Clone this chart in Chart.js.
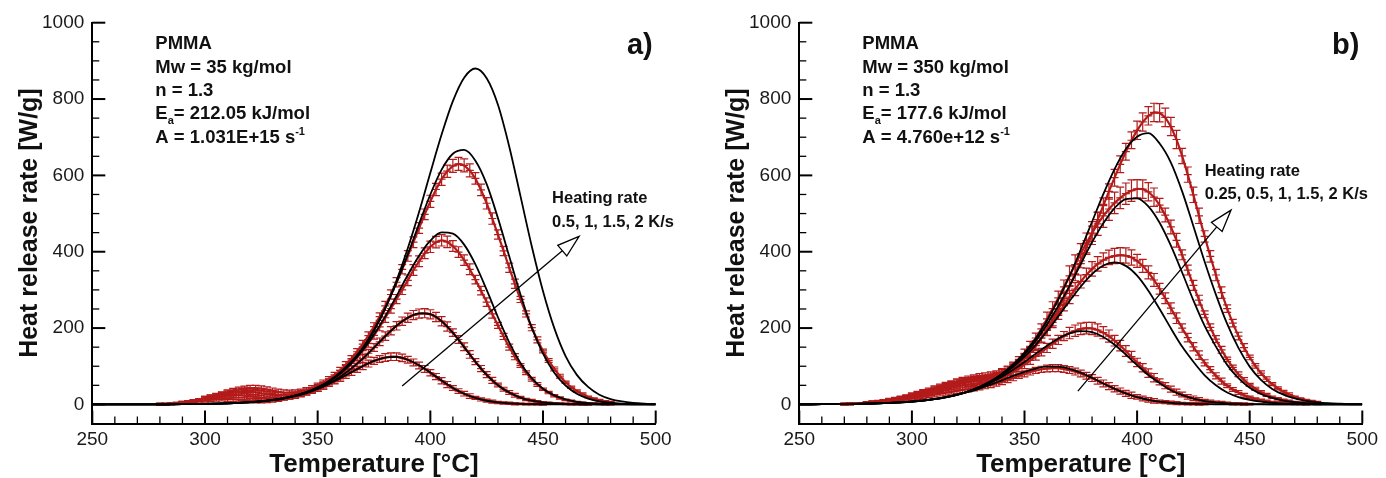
<!DOCTYPE html>
<html>
<head>
<meta charset="utf-8">
<script src="https://cdn.jsdelivr.net/npm/chart.js@4.4.0/dist/chart.umd.min.js"></script>
<style>
  body { margin: 0; background: #fff; width: 1386px; height: 478px; overflow: hidden; position: relative; }
  canvas { position: absolute; top: 0; }
</style>
</head>
<body>
<canvas id="chartA" width="707" height="478" style="left:0"></canvas>
<canvas id="chartB" width="679" height="478" style="left:707px"></canvas>
<script>
// grids
const modelStart = 250, modelStep = 5;   // black model curves, 250..500 every 5 °C
const expStep = 2.5;                     // red measured points
const expStartA = 280, expStartB = 270;
const xTicks = [250, 300, 350, 400, 450, 500];
const yTicks = [0, 200, 400, 600, 800, 1000];

// --- panel a: model curves (black)
const modelA1 = [0,0,0,0,0.1,0.2,0.3,0.5,0.7,1, 1.4,2,2.9,4.2,6,8.5,11.9,16.7,22.9,31, 41.4,53.9,68.6,84.6,100.4,114.1,122.6,124.4,117,102.7, 83.4,62.4,43.1,27.9,16.9,9.6,5.4,2.8,1.4,0.7, 0.35,0.2,0.1,0,0,0,0,0,0,0, 0];
const modelA2 = [0,0,0,0,0.1,0.15,0.25,0.4,0.6,0.85, 1.2,1.8,2.6,3.8,5.5,7.8,11,15.5,21.6,29.8, 40.6,54.5,72.5,94.3,120,148.8,178.6,206,227,238.6, 236.4,218,187.7,150,111.6,77.3,50.4,31,18,9.8, 5.3,2.8,1.4,0.7,0.3,0.1,0,0,0,0, 0];
const modelA3 = [0,0,0,0,0.1,0.15,0.25,0.4,0.6,0.9, 1.3,1.9,2.8,4,5.8,8.2,11.7,16.5,23.2,32, 44.1,60,81,107.8,142,183.4,230.7,284,339,389.5, 429,450.5,447.3,418.6,366.7,299.8,228.4,162.4,108.7,68.7, 41,23.7,13.2,6.8,3.6,1.9,1,0.5,0.2,0.1, 0];
const modelA4 = [0,0,0,0,0.1,0.15,0.25,0.4,0.6,0.9, 1.3,1.9,2.8,4,5.8,8.3,11.7,16.7,23.3,32.4, 44.9,61.5,83.8,112.6,148.7,195.6,252.6,319,393,473, 550,615,656.6,666.7,638.5,577,488,388,288,201, 133.3,83.1,49.6,28.1,15.4,8,4.4,2.3,1.2,0.6, 0.3];
const modelA5 = [0,0,0,0,0.1,0.15,0.25,0.4,0.6,0.9, 1.3,1.8,2.7,3.8,5.5,7.9,11.3,15.9,22.4,31.1, 43,59.2,80.7,109,146,192.7,251.7,324.7,409,504, 607,707,794.6,856,880,854.5,785,675.8,545.6,414.5, 296.6,199.8,126.7,77.4,45.8,25.5,14,7.7,4.1,2.2, 1.1];

// --- panel a: measurements (red) and error half-widths per 10 °C
const expA1 = [0.5,1,1.5,2.5,3.5,5,7,9,11,12.5, 13.5,14,14,13.5,12.5,11.5,10.5,10,10,10.5, 12,14,17,20,23,27,31,36,41,47, 54,61,68,76,84,92,100,107,114,119, 123,125,125,122,117,110,102,93,83,73, 62,52,43,35,28,22,17,13,10,7, 5,4,3,2,1.5,1,0.7,0.5,0.3];
const expA2 = [0.5,1,2,3,4.5,6.5,9,11.5,14,17, 19.5,21.5,23,24,24,23,21.5,19.5,17.5,16, 15.5,16,17.5,19.5,22,26,30,35,41,47, 55,63,72,83,94,107,120,134,149,164, 179,193,206,218,227,234,238,239,236,229, 218,204,188,170,151,131,112,94,78,63, 51,40,31,24,18,13,10,7,5,4, 3,2,1.4,1,0.7,0.4,0.2];
const expA3 = [0.5,1,2,3.5,5,7,9.5,12.5,16,19.5, 23,26.5,29.5,31.5,33,33.5,33,31.5,29,27, 25,24,24,25,27,30,34,39,45,52, 60,70,81,94,108,124,141,160,181,203, 227,251,276,300,325,352,375,396,413,425, 430,426,415,399,378,354,327,298,268,237, 207,178,150,125,102,83,66,52,40,31, 23,17,12,9,6,4,3,2,1.3,0.8, 0.5];
const expA4 = [0.5,1,2,3.5,5,7,9.5,12.5,16,20, 24,28,32,36,39.5,42,43,43,41.5,39, 36,33,31,30.5,31,33,37,42,49,57, 66,77,89,104,120,138,158,180,204,230, 258,288,320,354,389,425,462,498,532,563, 590,611,625,630,626,613,592,562,527,487, 445,402,358,316,275,237,201,169,140,115, 93,74,58,45,35,27,20,15,11,8, 6];
const errA1 = [2,3,5,6,6,6,6,7,8,9,10,9,8,6,4,3,2,2,2,2,2];
const errA2 = [2,3,5,6,6,6,6,7,8,10,11,12,12,10,8,5,3,2,2,2,2];
const errA3 = [2,3,5,6,7,7,6,7,8,10,12,14,15,14,11,8,5,3,2,2,2];
const errA4 = [2,3,5,6,7,7,7,7,8,10,12,14,16,17,15,12,8,5,3,2,2];

// --- panel b: model curves (black)
const modelB1 = [0.2,0.35,0.5,0.7,1,1.5,2.1,2.9,4.1,5.6, 7.8,10.5,14.3,19.1,25.1,32.6,41.6,51.8,63.2,74.9, 85.5,94,98.9,98.8,93.3,83.1,69.7,54.9,40.7,29, 19,12,7.3,4.3,2.4,1.3,0.7,0.35,0.2,0.1, 0,0,0,0,0,0,0,0,0,0, 0];
const modelB2 = [0.2,0.35,0.5,0.7,1,1.5,2,2.8,3.9,5.5, 7.5,10.3,14.1,19,25.5,33.8,44,57.1,72.8,90.9, 111.2,132.6,153.8,172.5,185.9,192,189.1,176.8,156.3,130.7, 103.1,77,55.8,37.2,24.1,14.9,8.9,5.2,2.9,1.6, 0.9,0.5,0.25,0.1,0,0,0,0,0,0, 0];
const modelB3 = [0.2,0.35,0.5,0.7,0.9,1.3,1.9,2.7,3.8,5.3, 7.3,10,13.8,18.7,25.2,33.7,45,58.8,76.6,98.6, 125,156.2,191.6,230.6,270.8,309,341.5,363.8,372,363, 337.4,298,250,199.4,151.4,111.6,76.3,50.2,31.2,19.3, 11.9,7.1,4.1,2.3,1.3,0.8,0.4,0.2,0.1,0, 0];
const modelB4 = [0.2,0.35,0.5,0.7,0.9,1.3,1.9,2.7,3.8,5.3, 7.4,10.1,13.8,18.7,25.3,34,45.5,60,79,102.5, 131.3,166.2,209.3,257.8,310.7,367.9,425,474.7,514.5,538, 540,518.8,475.8,415.8,345.5,272.5,205.5,151.5,103.6,68.7, 43.6,27.3,16.9,9.8,6,3.5,2,1.1,0.6,0.3, 0.15];
const modelB5 = [0.2,0.35,0.5,0.7,0.9,1.3,1.9,2.7,3.8,5.3, 7.4,10.2,14,19,25.6,34.4,46.1,61.1,80.5,105.4, 136,173,220,274.8,336,405.8,478.5,551,616.6,669.3, 701.3,710.6,683.5,633.7,558.2,467,373.8,287.6,210.8,148.1, 99,64.1,40.6,25.6,15.7,9.3,5.3,3.1,1.9,1, 0.5];

// --- panel b: measurements (red)
const expB1 = [1,1.5,2,2.5,3.5,4.5,5.5,7,8.5,10, 12,13.5,15.5,18,20.5,23,25.5,28,30.5,33, 35.5,38,40,42.5,45,48,51,55,59,64, 69,75,80,85,89,92,94,95,95,93, 90,86,81,75,69,62,55,48,41,35, 29,24,19.5,15.5,12,9.5,7.5,6,4.5,3.5, 2.5,2,1.5,1,0.7];
const expB2 = [1,1.5,2,3,4,5,6.5,8,10,12, 14.5,17,20,23,26.5,30,33.5,37,40.5,44, 47,50,52,54,56,58,61,65,70,77, 85,94,104,115,126,137,148,159,169,179, 187,193,198,200,199,195,188,179,167,154, 140,125,110,96,82,70,59,49,40,32, 26,20,16,12,9,7,5,4,3,2, 1.5,1,0.7];
const expB3 = [1,1.5,2,3,4,5.5,7,8.5,10.5,13, 15.5,18.5,22,25.5,29,33,37,41,45,49, 53,56,59,61,63,65,68,72,78,86, 96,108,122,138,155,174,194,215,237,259, 281,302,322,340,355,368,378,385,389,391, 390,385,376,363,346,326,303,278,252,226, 200,175,151,129,109,91,75,61,49,39, 31,24,19,14,11,8,6,4.5,3.3,2.4, 1.7,1.2,0.8];
const expB4 = [1,1.5,2,3,4,5.5,7,9,11,13.5, 16.5,19.5,23,27,31,35.5,40,44.5,49,53.5, 57.5,61,64,66.5,68,69.5,72,76,82,90, 101,115,132,152,174,198,224,251,279,308, 337,366,395,423,449,473,494,512,528,541, 552,560,565,564,557,543,522,496,465,430, 392,352,312,273,236,202,171,143,118,97, 79,64,51,41,32,25,19,15,11,8, 6,4.5,3.3,2.4,1.7];
const expB5 = [1,1.5,2,3,4,5.5,7.5,9.5,12,14.5, 17.5,21,25,29,33.5,38,42.5,47,51.5,56, 60,64,67.5,70.5,73,75,77,80,84,90, 98,108,121,136,154,174,197,222,249,278, 309,342,376,411,447,484,521,558,594,629, 662,692,718,740,756,765,764,752,728,694, 651,602,549,494,440,388,339,293,251,213, 179,149,123,101,82,66,53,42,33,26, 20,15,11.5,8.5,6];
const errB1 = [2,3,4,5,6,7,7,7,8,9,9,9,8,6,4,3,2,2,2,2,2,2];
const errB2 = [2,3,4,5,6,7,8,8,10,12,15,16,14,11,8,6,4,3,2,2,2,2];
const errB3 = [2,3,4,5,6,7,8,9,11,14,17,19,20,17,14,11,8,5,3,2,2,2];
const errB4 = [2,3,4,5,6,7,8,10,13,18,26,30,28,24,18,13,9,6,4,3,2,2];
const errB5 = [2,3,4,5,6,7,8,10,13,16,18,20,22,24,24,20,15,10,6,4,2,2];

// annotation text
const infoA = [[['PMMA']], [['Mw = 35 kg/mol']], [['n = 1.3']], [['E'], ['a', 'sub'], ['= 212.05 kJ/mol']], [['A = 1.031E+15 s'], ['-1', 'sup']]];
const infoB = [[['PMMA']], [['Mw = 350 kg/mol']], [['n = 1.3']], [['E'], ['a', 'sub'], ['= 177.6 kJ/mol']], [['A = 4.760e+12 s'], ['-1', 'sup']]];
const rateA = ['Heating rate', '0.5, 1, 1.5, 2 K/s'];
const rateB = ['Heating rate', '0.25, 0.5, 1, 1.5, 2 K/s'];

const RED = '#b31b1b';
const FONT = "'Liberation Sans', Arial, Helvetica, sans-serif";

function modelSet(vals) {
    return {
        data: vals.map((v, i) => ({ x: modelStart + i * modelStep, y: v })),
        borderColor: '#000', borderWidth: 1.8, pointRadius: 0,
        cubicInterpolationMode: 'monotone', order: 1
    };
}

function expSet(vals, errs, start) {
    return {
        data: vals.map((v, i) => ({ x: start + i * expStep, y: v, e: errs[Math.floor(i * expStep / 10)] })),
        borderColor: RED, borderWidth: 2.2, pointStyle: 'line', pointRadius: 4,
        pointBorderColor: RED, pointBorderWidth: 1.2, withErr: true, order: 2
    };
}

function drawRich(ctx, parts, x, y) {
    parts.forEach(([txt, kind]) => {
        ctx.font = kind ? `bold 11px ${FONT}` : `bold 18.5px ${FONT}`;
        const dy = kind === 'sub' ? 5 : kind === 'sup' ? -8 : 0;
        ctx.fillText(txt, x, y + dy);
        x += ctx.measureText(txt).width;
    });
}

const decorPlugin = {
    id: 'decor',
    // error bars go under the curves
    beforeDatasetsDraw(chart) {
        const { ctx, scales: { x, y } } = chart;
        ctx.save();
        ctx.strokeStyle = RED;
        ctx.lineWidth = 1.2;
        chart.data.datasets.forEach(ds => {
            if (!ds.withErr) return;
            ds.data.forEach(p => {
                const px = x.getPixelForValue(p.x);
                const y1 = y.getPixelForValue(p.y + p.e), y2 = y.getPixelForValue(p.y - p.e);
                ctx.beginPath();
                ctx.moveTo(px, y1); ctx.lineTo(px, y2);
                ctx.moveTo(px - 4, y1); ctx.lineTo(px + 4, y1);
                ctx.moveTo(px - 4, y2); ctx.lineTo(px + 4, y2);
                ctx.stroke();
            });
        });
        ctx.restore();
    },
    afterDraw(chart, args, opts) {
        const { ctx, chartArea: a, scales: { x, y } } = chart;
        ctx.save();
        ctx.strokeStyle = '#000';
        // ticks point inwards
        for (let t = 250; t <= 500; t += 10) {
            const major = xTicks.includes(t);
            const px = x.getPixelForValue(t);
            ctx.lineWidth = major ? 2 : 1.3;
            ctx.beginPath(); ctx.moveTo(px, a.bottom); ctx.lineTo(px, a.bottom - (major ? 13 : 7)); ctx.stroke();
        }
        for (let v = 0; v <= 1000; v += 50) {
            const major = yTicks.includes(v);
            const py = y.getPixelForValue(v);
            ctx.lineWidth = major ? 2 : 1.3;
            ctx.beginPath(); ctx.moveTo(a.left, py); ctx.lineTo(a.left + (major ? 13 : 7), py); ctx.stroke();
        }

        ctx.fillStyle = '#111';
        ctx.textBaseline = 'alphabetic';
        ctx.textAlign = 'left';
        let ty = 49.3;
        opts.info.forEach(line => { drawRich(ctx, line, a.left + 63, ty); ty += 23.3; });

        ctx.font = `bold 29px ${FONT}`;
        ctx.textAlign = 'right';
        ctx.fillText(opts.tag, a.right - 3, 54);

        ctx.textAlign = 'left';
        ctx.font = `bold 16.5px ${FONT}`;
        const rx = x.getPixelForValue(opts.rateAt[0]), ry = y.getPixelForValue(opts.rateAt[1]);
        ctx.fillText(opts.rate[0], rx, ry);
        ctx.fillText(opts.rate[1], rx, ry + 23.3);

        // arrow with hollow head
        const x0 = x.getPixelForValue(opts.arrow[0][0]), y0 = y.getPixelForValue(opts.arrow[0][1]);
        const x1 = x.getPixelForValue(opts.arrow[1][0]), y1 = y.getPixelForValue(opts.arrow[1][1]);
        const ang = Math.atan2(y1 - y0, x1 - x0);
        const L = 22, W = 7;
        const bx = x1 - L * Math.cos(ang), by = y1 - L * Math.sin(ang);
        ctx.lineWidth = 1.3;
        ctx.beginPath(); ctx.moveTo(x0, y0); ctx.lineTo(bx, by); ctx.stroke();
        ctx.beginPath();
        ctx.moveTo(x1, y1);
        ctx.lineTo(bx + W * Math.sin(ang), by - W * Math.cos(ang));
        ctx.lineTo(bx - W * Math.sin(ang), by + W * Math.cos(ang));
        ctx.closePath();
        ctx.fillStyle = '#fff';
        ctx.fill();
        ctx.stroke();
        ctx.restore();
    }
};

function makeOptions(padRight, decor) {
    return {
        responsive: false,
        animation: false,
        devicePixelRatio: 1,
        layout: { padding: { top: 22.7, right: padRight, left: 0, bottom: 0 } },
        plugins: { legend: { display: false }, tooltip: { enabled: false }, decor: decor },
        scales: {
            x: {
                type: 'linear', min: 250, max: 500,
                afterBuildTicks: s => { s.ticks = xTicks.map(v => ({ value: v })); },
                afterFit: s => { s.height = 54.5; },
                grid: { display: false, drawTicks: false },
                border: { display: true, color: '#000', width: 2 },
                ticks: { font: { family: FONT, size: 19 }, color: '#1a1a1a', padding: 5, maxRotation: 0, callback: v => String(v) },
                title: { display: true, text: 'Temperature [°C]', color: '#111', padding: { top: 0, bottom: 0 },
                         font: { family: FONT, size: 26, weight: 'bold', lineHeight: 1 } }
            },
            y: {
                type: 'linear', min: -50, max: 1000,
                afterBuildTicks: s => { s.ticks = yTicks.map(v => ({ value: v })); },
                afterFit: s => { s.width = 92.3; },
                grid: { display: false, drawTicks: false },
                border: { display: true, color: '#000', width: 2 },
                ticks: { font: { family: FONT, size: 19 }, color: '#1a1a1a', padding: 8, callback: v => String(v) },
                title: { display: true, text: 'Heat release rate [W/g]', color: '#111', padding: { top: 17.5, bottom: 0 },
                         font: { family: FONT, size: 25, weight: 'bold', lineHeight: 1 } }
            }
        }
    };
}

new Chart(document.getElementById('chartA'), {
    type: 'line',
    data: {
        datasets: [
            expSet(expA1, errA1, expStartA), expSet(expA2, errA2, expStartA),
            expSet(expA3, errA3, expStartA), expSet(expA4, errA4, expStartA),
            modelSet(modelA1), modelSet(modelA2), modelSet(modelA3), modelSet(modelA4), modelSet(modelA5)
        ]
    },
    options: makeOptions(707 - 655.7, { info: infoA, tag: 'a)', rate: rateA, rateAt: [454, 527], arrow: [[387.5, 48], [466, 440]] }),
    plugins: [decorPlugin]
});

new Chart(document.getElementById('chartB'), {
    type: 'line',
    data: {
        datasets: [
            expSet(expB1, errB1, expStartB), expSet(expB2, errB2, expStartB), expSet(expB3, errB3, expStartB),
            expSet(expB4, errB4, expStartB), expSet(expB5, errB5, expStartB),
            modelSet(modelB1), modelSet(modelB2), modelSet(modelB3), modelSet(modelB4), modelSet(modelB5)
        ]
    },
    options: makeOptions(679 - 655.3, { info: infoB, tag: 'b)', rate: rateB, rateAt: [430, 598], arrow: [[373.7, 35], [441.7, 509]] }),
    plugins: [decorPlugin]
});
</script>
</body>
</html>
